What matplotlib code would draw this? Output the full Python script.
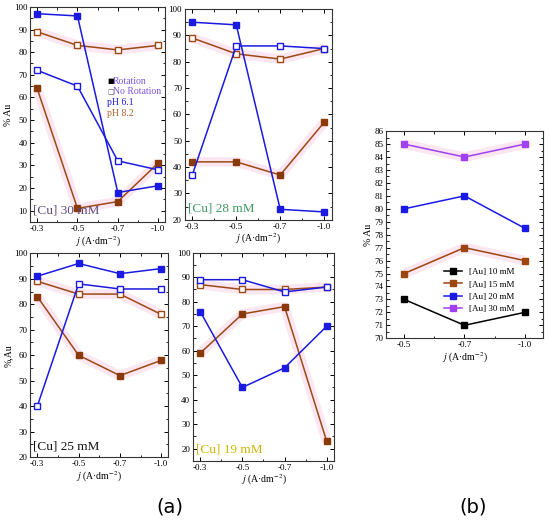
import matplotlib
matplotlib.use("Agg")
from matplotlib import pyplot as plt
from matplotlib.ticker import MultipleLocator

plt.rcParams['font.family'] = ['Liberation Serif', 'DejaVu Sans']
plt.rcParams['mathtext.fontset'] = 'stix'

# current density labels
j_a = ['-0.3', '-0.5', '-0.7', '-1.0']
j_b = ['-0.5', '-0.7', '-1.0']

# panel (a): [Cu] 30, 28, 25, 19 mM
cu_labels = ['[Cu] 30 mM', '[Cu] 28 mM', '[Cu] 25 mM', '[Cu] 19 mM']
cu_colors = ['#5e4a78', '#3f9a62', '#111111', '#d0b400']
rot_61 = [[97, 96, 18, 21], [95, 94, 24, 23], [91, 96, 92, 94], [76, 45, 53, 70]]
norot_61 = [[72, 65, 32, 28], [37, 86, 86, 85], [40, 88, 86, 86], [89, 89, 84, 86]]
rot_82 = [[64, 11, 14, 31], [42, 42, 37, 57], [83, 60, 52, 58], [59, 75, 78, 23]]
norot_82 = [[89, 83, 81, 83], [89, 83, 81, 85], [89, 84, 84, 76], [87, 85, 85, 86]]
ylims = [(5, 100), (20, 100), (20, 100), (15, 100)]
ylabels = ['% Au', '', '%,Au', '']

# panel (b)
au_labels = ['[Au] 10 mM', '[Au] 15 mM', '[Au] 20 mM', '[Au] 30 mM']
au_colors = ['#000000', '#9c4510', '#1a1ae6', '#a040f0']
au_vals = [[73, 71, 72], [75, 77, 76], [80, 81, 78.5], [85, 84, 85]]

blue = '#1a1ae0'
brown = '#9c4a14'
glow = '#fce6f1'
xlab = r'$\it{j}$ (A·dm$^{-2}$)'

fig = plt.figure(figsize=(5.5, 5.31), dpi=100)
rects = [[0.055, 0.582, 0.245, 0.405],
         [0.336, 0.586, 0.267, 0.397],
         [0.055, 0.139, 0.251, 0.384],
         [0.351, 0.132, 0.256, 0.392]]


def style(ax):
    ax.tick_params(which='both', direction='in', top=True, right=True, labelsize=6.5, pad=2)
    ax.tick_params(which='major', length=3, width=0.7)
    ax.tick_params(which='minor', length=1.8, width=0.6)
    for s in ax.spines.values():
        s.set_linewidth(0.8)
        s.set_color('#333333')


for i in range(4):
    ax = fig.add_axes(rects[i])
    x = range(len(j_a))
    # faint pink halo seen around the brown series
    ax.plot(x, norot_82[i], color=glow, lw=7, zorder=1, solid_capstyle='butt')
    ax.plot(x, rot_82[i], color=glow, lw=7, zorder=1, solid_capstyle='butt')
    ax.plot(x, norot_82[i], '-s', color=brown, mfc='white', mec=brown, ms=4, lw=1.1, mew=1)
    ax.plot(x, rot_82[i], '-s', color=brown, mfc='#8a3a08', mec='#8a3a08', ms=4, lw=1.1)
    ax.plot(x, norot_61[i], '-s', color=blue, mfc='white', mec=blue, ms=4, lw=1.1, mew=1)
    ax.plot(x, rot_61[i], '-s', color=blue, mfc=blue, mec=blue, ms=4, lw=1.1)
    ax.set_xlim(-0.17, 3.17)
    ax.set_ylim(*ylims[i])
    ax.set_xticks(list(x))
    ax.set_xticklabels(j_a)
    ax.xaxis.set_minor_locator(MultipleLocator(0.5))
    ax.yaxis.set_major_locator(MultipleLocator(10))
    ax.yaxis.set_minor_locator(MultipleLocator(5))
    style(ax)
    ax.set_xlabel(xlab, fontsize=7, labelpad=1)
    if ylabels[i]:
        ax.set_ylabel(ylabels[i], fontsize=7, labelpad=1)
    ax.text(0.02, 0.025, cu_labels[i], transform=ax.transAxes, fontsize=9.5,
            color=cu_colors[i], ha='left', va='bottom')
    if i == 0:
        # hand-drawn key like in the original figure
        ax.text(0.57, 0.655, '■', transform=ax.transAxes, fontsize=5, color='black',
                family='DejaVu Sans', va='center')
        ax.text(0.615, 0.655, 'Rotation', transform=ax.transAxes, fontsize=7,
                color='#7a55e0', va='center')
        ax.text(0.57, 0.605, '□', transform=ax.transAxes, fontsize=5, color='#555555',
                family='DejaVu Sans', va='center')
        ax.text(0.615, 0.605, 'No Rotation', transform=ax.transAxes, fontsize=7,
                color='#7a55e0', va='center')
        ax.text(0.57, 0.555, 'pH 6.1', transform=ax.transAxes, fontsize=7,
                color=blue, va='center')
        ax.text(0.57, 0.505, 'pH 8.2', transform=ax.transAxes, fontsize=7,
                color='#b0602a', va='center')

# panel (b)
axb = fig.add_axes([0.702, 0.363, 0.285, 0.390])
xb = range(len(j_b))
for k, (lab, col, vals) in enumerate(zip(au_labels, au_colors, au_vals)):
    if k in (1, 3):
        axb.plot(xb, vals, color=glow, lw=7, zorder=1, solid_capstyle='butt')
    axb.plot(xb, vals, '-s', color=col, mfc=col, mec=col, ms=4, lw=1.1, label=lab)
axb.set_xlim(-0.3, 2.3)
axb.set_ylim(70, 86)
axb.set_xticks(list(xb))
axb.set_xticklabels(j_b)
axb.xaxis.set_minor_locator(MultipleLocator(0.5))
axb.yaxis.set_major_locator(MultipleLocator(1))
axb.yaxis.set_minor_locator(MultipleLocator(0.5))
style(axb)
axb.set_xlabel(xlab, fontsize=7, labelpad=1)
axb.set_ylabel('% Au', fontsize=7, labelpad=1)
handles, labels = axb.get_legend_handles_labels()
axb.legend(handles, labels, loc='upper left', bbox_to_anchor=(0.33, 0.37), fontsize=6.5,
           frameon=False, handlelength=2.0, labelspacing=0.45, borderpad=0.2)

fig.text(0.308, 0.045, '(a)', fontsize=14, family='DejaVu Sans', ha='center', va='center')
fig.text(0.86, 0.045, '(b)', fontsize=14, family='DejaVu Sans', ha='center', va='center')

plt.savefig('out.png', dpi=100)
